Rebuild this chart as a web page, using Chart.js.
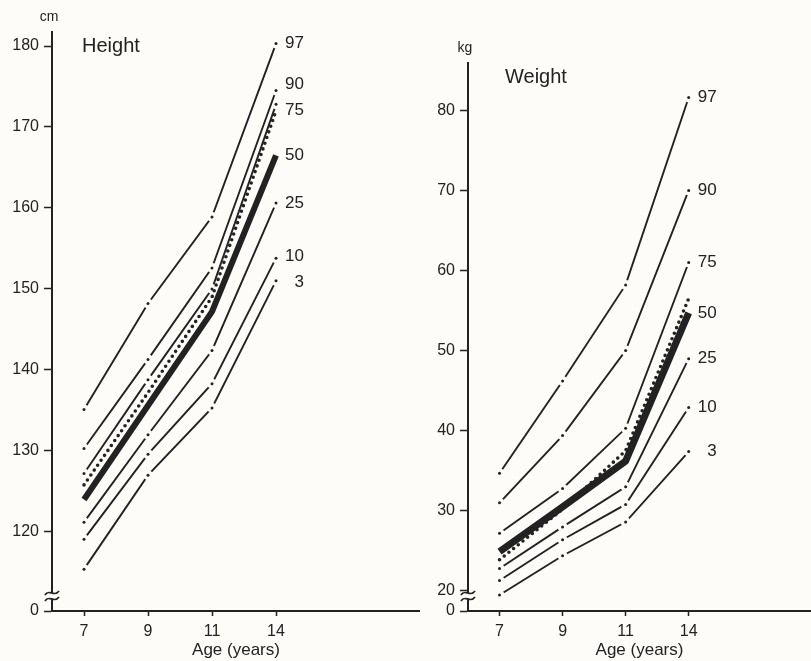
<!DOCTYPE html>
<html>
<head>
<meta charset="utf-8">
<script src="https://cdn.jsdelivr.net/npm/chart.js@4/dist/chart.umd.min.js"></script>
<style>
html, body { margin: 0; padding: 0; background: #fdfcf8; }
#wrap { position: relative; width: 811px; height: 661px; }
#heightChart { position: absolute; left: 0; top: 0; }
#weightChart { position: absolute; left: 420px; top: 0; }
</style>
</head>
<body>
<div id="wrap">
  <canvas id="heightChart" width="420" height="661"></canvas>
  <canvas id="weightChart" width="391" height="661"></canvas>
</div>
<script>
// age axis
var ages = ['7', '9', '11', '14'];

// height centiles (cm)
var height97 = [135.1, 148.2, 158.9, 180.3];
var height90 = [130.3, 141.3, 152.6, 174.5];
var height75 = [127.2, 138.8, 150.0, 172.8];
var height50 = [124.0, 135.6, 147.2, 166.5];
var height25 = [121.2, 132.0, 142.4, 160.6];
var height10 = [119.1, 129.6, 138.3, 153.8];
var height3  = [115.4, 127.0, 135.3, 151.0];
var heightDotted = [125.8, 137.2, 149.0, 172.0];

// weight centiles (kg)
var weight97 = [34.7, 46.2, 58.2, 81.6];
var weight90 = [31.0, 39.4, 50.0, 70.0];
var weight75 = [27.2, 32.8, 40.3, 61.0];
var weight50 = [24.9, 30.5, 36.2, 54.7];
var weight25 = [22.8, 28.0, 33.0, 49.0];
var weight10 = [21.3, 26.4, 30.8, 42.9];
var weight3  = [19.5, 24.4, 28.6, 37.4];
var weightDotted = [23.9, 30.2, 37.5, 56.5];

// tick labels
var heightTicks = [120, 130, 140, 150, 160, 170, 180];
var weightTicks = [20, 30, 40, 50, 60, 70, 80];

var ink = '#222222';
var paper = '#fdfcf8';
var fontFamily = '"Liberation Sans", Arial, sans-serif';

function toPoints(values) {
    return values.map(function (v, i) { return { x: i, y: v }; });
}

// thin centile line, broken around each point
function thinLine(label, values) {
    return {
        label: label, data: toPoints(values),
        borderColor: ink, borderWidth: 1.9, pointRadius: 0,
        gapped: true, order: 2
    };
}

function thickLine(label, values, width) {
    return {
        label: label, data: toPoints(values),
        borderColor: ink, borderWidth: width, pointRadius: 0,
        borderJoinStyle: 'round', order: 0
    };
}

function dottedLine(values) {
    return {
        label: '', data: toPoints(values),
        borderColor: ink, borderWidth: 3.6, pointRadius: 0,
        borderDash: [0, 6], borderCapStyle: 'round', order: 1
    };
}

// clip a hole round every point of thin lines, then put a dot in it
var gapPlugin = {
    id: 'gapPlugin',
    beforeDatasetDraw: function (chart, args) {
        var ds = chart.data.datasets[args.index];
        if (!ds.gapped) return;
        var ctx = chart.ctx;
        ctx.save();
        ctx.beginPath();
        ctx.rect(0, 0, chart.width, chart.height);
        args.meta.data.forEach(function (pt) {
            ctx.moveTo(pt.x + 5, pt.y);
            ctx.arc(pt.x, pt.y, 5, 0, Math.PI * 2);
        });
        ctx.clip('evenodd');
    },
    afterDatasetDraw: function (chart, args) {
        var ds = chart.data.datasets[args.index];
        if (!ds.gapped) return;
        var ctx = chart.ctx;
        ctx.restore();
        ctx.save();
        ctx.fillStyle = ink;
        args.meta.data.forEach(function (pt) {
            ctx.beginPath();
            ctx.arc(pt.x, pt.y, 1.5, 0, Math.PI * 2);
            ctx.fill();
        });
        ctx.restore();
    }
};

// centile names at the end of the lines
var endLabelPlugin = {
    id: 'endLabels',
    afterDatasetsDraw: function (chart) {
        var ctx = chart.ctx;
        var items = [];
        chart.data.datasets.forEach(function (ds, i) {
            if (!ds.label) return;
            var pts = chart.getDatasetMeta(i).data;
            var last = pts[pts.length - 1];
            items.push({ text: ds.label, x: last.x, y: last.y });
        });
        items.sort(function (a, b) { return a.y - b.y; });
        for (var pass = 0; pass < 5; pass++) {
            for (var k = 1; k < items.length; k++) {
                var diff = items[k].y - items[k - 1].y;
                if (diff < 26) {
                    items[k - 1].y -= (26 - diff) / 2;
                    items[k].y += (26 - diff) / 2;
                }
            }
        }
        ctx.save();
        ctx.font = '17px ' + fontFamily;
        ctx.fillStyle = ink;
        ctx.textAlign = 'right';
        ctx.textBaseline = 'middle';
        var w2 = ctx.measureText('00').width;
        items.forEach(function (it) {
            ctx.fillText(it.text, it.x + 9 + w2, it.y);
        });
        ctx.restore();
    }
};

// panel name, unit and the axis break
var panelTextPlugin = {
    id: 'panelText',
    afterDraw: function (chart, args, opts) {
        var ctx = chart.ctx;
        var area = chart.chartArea;
        ctx.save();
        ctx.fillStyle = ink;
        ctx.textBaseline = 'middle';

        ctx.font = '20px ' + fontFamily;
        ctx.textAlign = 'left';
        ctx.fillText(opts.title, area.left + opts.titleDx, area.top + 14);

        ctx.font = '14px ' + fontFamily;
        ctx.textAlign = 'center';
        ctx.fillText(opts.unit, area.left - 3, area.top - 15);

        // axis break
        var bx = area.left, by = area.bottom - 15;
        ctx.fillStyle = paper;
        ctx.fillRect(bx - 3, by - 3, 6, 6);
        ctx.strokeStyle = ink;
        ctx.lineWidth = 1.8;
        [-3, 3].forEach(function (o) {
            ctx.beginPath();
            ctx.moveTo(bx - 7, by + o + 2);
            ctx.bezierCurveTo(bx - 3, by + o - 5, bx + 2, by + o + 5, bx + 7, by + o - 2);
            ctx.stroke();
        });
        ctx.restore();
    }
};

function makeOptions(yMin, yMax, yTicks, topPad, yWidth, xMax, title, unit, titleDx) {
    return {
        responsive: false,
        animation: false,
        layout: { padding: { top: topPad, right: 0, bottom: 0, left: 0 } },
        plugins: {
            legend: { display: false },
            tooltip: { enabled: false },
            panelText: { title: title, unit: unit, titleDx: titleDx }
        },
        scales: {
            x: {
                type: 'linear', min: -0.5, max: xMax,
                afterBuildTicks: function (scale) {
                    scale.ticks = ages.map(function (a, i) { return { value: i }; });
                },
                ticks: {
                    callback: function (v) { return ages[v]; },
                    color: ink, font: { family: fontFamily, size: 16 },
                    padding: 6, maxRotation: 0, autoSkip: false
                },
                grid: { drawOnChartArea: false, tickLength: 5, tickColor: ink, tickWidth: 1.5 },
                border: { display: true, color: ink, width: 2 },
                title: {
                    display: true, text: 'Age (years)', color: ink,
                    font: { family: fontFamily, size: 17 }, padding: { top: 0, bottom: 0 }
                },
                afterFit: function (scale) { scale.height = 50; }
            },
            y: {
                type: 'linear', min: yMin, max: yMax,
                afterBuildTicks: function (scale) {
                    scale.ticks = [yMin].concat(yTicks).map(function (v) { return { value: v }; });
                },
                ticks: {
                    callback: function (v) { return v === yMin ? '0' : v; },
                    color: ink, font: { family: fontFamily, size: 16 }, padding: 5
                },
                grid: { drawOnChartArea: false, tickLength: 8, tickColor: ink, tickWidth: 1.5 },
                border: { display: true, color: ink, width: 2 },
                afterFit: function (scale) { scale.width = yWidth; }
            }
        }
    };
}

new Chart(document.getElementById('heightChart'), {
    type: 'line',
    data: {
        datasets: [
            thickLine('50', height50, 6),
            dottedLine(heightDotted),
            thinLine('97', height97),
            thinLine('90', height90),
            thinLine('75', height75),
            thinLine('25', height25),
            thinLine('10', height10),
            thinLine('3', height3)
        ]
    },
    options: makeOptions(110.23, 181.73, heightTicks, 32, 52, 5.25, 'Height', 'cm', 30),
    plugins: [gapPlugin, endLabelPlugin, panelTextPlugin]
});

new Chart(document.getElementById('weightChart'), {
    type: 'line',
    data: {
        datasets: [
            thickLine('50', weight50, 7),
            dottedLine(weightDotted),
            thinLine('97', weight97),
            thinLine('90', weight90),
            thinLine('75', weight75),
            thinLine('25', weight25),
            thinLine('10', weight10),
            thinLine('3', weight3)
        ]
    },
    options: makeOptions(17.5, 85.9, weightTicks, 63, 48, 4.94, 'Weight', 'kg', 37),
    plugins: [gapPlugin, endLabelPlugin, panelTextPlugin]
});
</script>
</body>
</html>
